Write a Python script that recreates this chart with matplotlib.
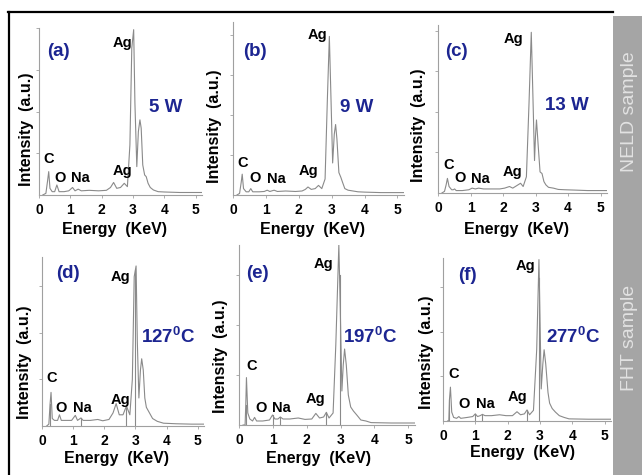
import numpy as np
import matplotlib.pyplot as plt
from matplotlib.patches import Rectangle
from matplotlib.lines import Line2D

plt.rcParams['font.family'] = ['Liberation Sans', 'DejaVu Sans']
plt.rcParams['mathtext.fontset'] = 'custom'
plt.rcParams['mathtext.rm'] = 'Liberation Sans'
plt.rcParams['mathtext.bf'] = 'Liberation Sans:bold'

# EDS spectra (energy in keV, intensity in a.u.)
energy_a = [0.12, 0.22, 0.27, 0.31, 0.35, 0.42, 0.50, 0.57, 0.64, 0.80, 0.95, 1.07, 1.15, 1.25,
            1.35, 1.60, 1.90, 2.15, 2.28, 2.38, 2.48, 2.60, 2.72, 2.82, 2.90, 2.96, 3.02, 3.06,
            3.12, 3.17, 3.22, 3.26, 3.31, 3.37, 3.42, 3.48, 3.55, 3.65, 3.80, 4.00, 4.50, 5.20]
counts_a = [0.00, 0.01, 0.08, 0.14, 0.04, 0.02, 0.02, 0.06, 0.02, 0.02, 0.025, 0.045, 0.025, 0.035,
            0.025, 0.028, 0.025, 0.028, 0.045, 0.075, 0.04, 0.045, 0.07, 0.05, 0.30, 0.88, 0.99, 0.55,
            0.17, 0.38, 0.45, 0.40, 0.18, 0.12, 0.11, 0.07, 0.045, 0.03, 0.02, 0.018, 0.015, 0.015]

energy_b = [0.12, 0.20, 0.25, 0.28, 0.32, 0.40, 0.48, 0.54, 0.60, 0.80, 0.95, 1.04, 1.12, 1.25,
            1.35, 1.60, 1.90, 2.10, 2.20, 2.28, 2.38, 2.50, 2.60, 2.70, 2.80, 2.87, 2.93, 2.98,
            3.03, 3.08, 3.12, 3.16, 3.22, 3.28, 3.33, 3.40, 3.50, 3.65, 3.80, 4.00, 4.50, 5.20]
counts_b = [0.00, 0.01, 0.08, 0.13, 0.04, 0.02, 0.02, 0.04, 0.02, 0.02, 0.022, 0.03, 0.022, 0.03,
            0.022, 0.025, 0.022, 0.025, 0.035, 0.05, 0.035, 0.04, 0.06, 0.04, 0.10, 0.60, 0.99, 0.60,
            0.20, 0.38, 0.44, 0.35, 0.14, 0.11, 0.08, 0.04, 0.03, 0.025, 0.02, 0.018, 0.015, 0.015]

energy_c = [0.12, 0.20, 0.25, 0.29, 0.34, 0.42, 0.47, 0.51, 0.56, 0.75, 0.95, 1.05, 1.15, 1.25,
            1.40, 1.60, 1.90, 2.05, 2.20, 2.30, 2.42, 2.54, 2.62, 2.72, 2.80, 2.87, 2.92, 2.97,
            3.00, 3.03, 3.08, 3.14, 3.20, 3.26, 3.32, 3.40, 3.55, 3.70, 3.90, 4.20, 4.60, 5.20]
counts_c = [0.00, 0.01, 0.05, 0.09, 0.04, 0.02, 0.02, 0.025, 0.015, 0.015, 0.02, 0.03, 0.025, 0.03,
            0.025, 0.025, 0.025, 0.03, 0.04, 0.03, 0.045, 0.06, 0.04, 0.10, 0.55, 0.99, 0.60, 0.20,
            0.35, 0.45, 0.30, 0.13, 0.12, 0.07, 0.05, 0.035, 0.03, 0.022, 0.02, 0.018, 0.015, 0.015]

energy_d = [0.15, 0.22, 0.26, 0.29, 0.33, 0.40, 0.50, 0.56, 0.62, 0.80, 0.95, 1.07, 1.14, 1.25,
            1.32, 1.55, 1.79, 1.95, 2.15, 2.28, 2.38, 2.48, 2.60, 2.71, 2.82, 2.90, 2.96, 3.02,
            3.06, 3.11, 3.16, 3.20, 3.25, 3.30, 3.35, 3.45, 3.55, 3.70, 3.90, 4.30, 4.80, 5.20]
counts_d = [0.00, 0.01, 0.12, 0.18, 0.04, 0.03, 0.03, 0.06, 0.03, 0.03, 0.03, 0.057, 0.03, 0.043,
            0.03, 0.03, 0.035, 0.028, 0.035, 0.07, 0.12, 0.06, 0.06, 0.107, 0.06, 0.25, 0.80, 0.857,
            0.45, 0.15, 0.30, 0.36, 0.30, 0.15, 0.10, 0.07, 0.04, 0.025, 0.015, 0.012, 0.01, 0.01]

energy_e = [0.12, 0.18, 0.20, 0.22, 0.26, 0.32, 0.40, 0.46, 0.52, 0.70, 0.90, 0.99, 1.06, 1.15,
            1.22, 1.30, 1.50, 1.75, 1.95, 2.15, 2.27, 2.38, 2.50, 2.58, 2.66, 2.78, 2.86, 2.95,
            2.99, 3.04, 3.08, 3.12, 3.17, 3.23, 3.30, 3.38, 3.48, 3.60, 3.75, 3.90, 4.50, 5.20]
counts_e = [0.00, 0.00, 0.10, 0.237, 0.06, 0.03, 0.02, 0.038, 0.02, 0.02, 0.025, 0.05, 0.03, 0.03,
            0.04, 0.03, 0.03, 0.035, 0.028, 0.03, 0.058, 0.035, 0.04, 0.063, 0.035, 0.06, 0.40, 0.90,
            0.60, 0.17, 0.30, 0.38, 0.30, 0.15, 0.09, 0.07, 0.05, 0.025, 0.02, 0.012, 0.01, 0.01]

energy_f = [0.14, 0.18, 0.20, 0.23, 0.27, 0.33, 0.42, 0.49, 0.55, 0.75, 0.92, 1.00, 1.07, 1.15,
            1.22, 1.30, 1.50, 1.75, 1.95, 2.15, 2.29, 2.40, 2.52, 2.60, 2.68, 2.80, 2.90, 2.97,
            3.00, 3.04, 3.09, 3.13, 3.18, 3.25, 3.30, 3.38, 3.48, 3.60, 3.75, 3.90, 4.50, 5.20]
counts_f = [0.00, 0.00, 0.12, 0.19, 0.05, 0.02, 0.015, 0.025, 0.015, 0.02, 0.025, 0.04, 0.025, 0.03,
            0.037, 0.03, 0.03, 0.035, 0.03, 0.03, 0.052, 0.035, 0.04, 0.062, 0.035, 0.06, 0.40, 0.906,
            0.60, 0.18, 0.32, 0.40, 0.32, 0.16, 0.10, 0.07, 0.05, 0.03, 0.02, 0.012, 0.01, 0.01]

# thin element marker lines seen in the lower row
markers_d = [0.26, 1.25, 2.71, 3.00]
markers_e = [0.20, 0.99, 1.22, 2.58, 2.97]
markers_f = [0.20, 1.00, 1.22, 2.60, 2.98]

panel_tags = ['(a)', '(b)', '(c)', '(d)', '(e)', '(f)']
conditions = ['5 W', '9 W', '13 W', r'127$^{\mathbf{0}}$C', r'197$^{\mathbf{0}}$C', r'277$^{\mathbf{0}}$C']
row_labels = ['NELD sample', 'FHT sample']
xticks = [0, 1, 2, 3, 4, 5]

W, H = 642, 475
fig = plt.figure(figsize=(W / 100, H / 100), dpi=100)
navy = '#1c2591'
grey = '#8a8a8a'


def fx(x):
    return x / W


def fy(y):
    return 1 - y / H


def txt(x, y, s, **kw):
    kw.setdefault('fontweight', 'bold')
    fig.text(fx(x), fy(y), s, ha='center', va='center', **kw)


# frame and side band
fig.add_artist(Rectangle((fx(613), 0), 1 - fx(613), fy(16), color='#a5a5a5', lw=0))
fig.add_artist(Line2D([fx(8), fx(613)], [fy(12), fy(12)], color='black', lw=1.6))
fig.add_artist(Line2D([fx(9), fx(9)], [fy(12), 0], color='black', lw=1.6))
txt(629, 112, row_labels[0], rotation=90, fontsize=14, color='#e2e2e2', fontweight='normal')
txt(629, 338, row_labels[1], rotation=90, fontsize=14, color='#e2e2e2', fontweight='normal')

spectra = [(energy_a, counts_a, []), (energy_b, counts_b, []), (energy_c, counts_c, []),
           (energy_d, counts_d, markers_d), (energy_e, counts_e, markers_e),
           (energy_f, counts_f, markers_f)]

# pixel boxes: left, right (at 5.2 keV), top, bottom, ylim top
boxes = [(39, 202, 28, 195, 1.0), (233, 404, 22, 195, 1.08), (438, 607, 25, 193, 1.035),
         (42, 204, 257, 426, 0.905), (239, 415, 245, 425, 0.9), (443, 611, 258, 421, 0.915)]

# text positions in pixels: tag, Ag main, condition, C, O, Na, Ag small, ylabel, xlabel
spots = [
    dict(tag=(58, 52), ag=(122, 43), cond=(166, 108), c=(49, 159), o=(60, 178), na=(80, 178),
         ag2=(122, 171), yl=(26, 129), xl=(115, 230)),
    dict(tag=(255, 52), ag=(317, 35), cond=(357, 107), c=(243, 163), o=(255, 178), na=(276, 179),
         ag2=(308, 171), yl=(215, 126), xl=(312, 230)),
    dict(tag=(456, 52), ag=(513, 39), cond=(567, 106), c=(449, 165), o=(460, 178), na=(480, 179),
         ag2=(512, 172), yl=(418, 125), xl=(517, 230)),
    dict(tag=(68, 274), ag=(120, 277), cond=(168, 337), c=(52, 378), o=(61, 408), na=(82, 408),
         ag2=(120, 400), yl=(25, 362), xl=(117, 459)),
    dict(tag=(257, 274), ag=(323, 264), cond=(370, 337), c=(252, 366), o=(261, 408), na=(281, 408),
         ag2=(315, 399), yl=(220, 356), xl=(318, 459)),
    dict(tag=(467, 275), ag=(525, 266), cond=(573, 337), c=(454, 374), o=(464, 404), na=(485, 404),
         ag2=(517, 397), yl=(426, 352), xl=(522, 453)),
]

for i in range(6):
    e, c, marks = spectra[i]
    l, r, t, b, ytop = boxes[i]
    ax = fig.add_axes([fx(l), fy(b), fx(r) - fx(l), (b - t) / H])
    ax.plot(e, c, color=grey, lw=0.8)
    for m in marks:
        ax.plot([m, m], [0, np.interp(m, e, c)], color=grey, lw=0.8)
    ax.set_xlim(0, 5.2)
    ax.set_ylim(0, ytop)
    ax.set_xticks(xticks)
    ax.set_yticks([v for v in [0.25, 0.5, 0.75, 1.0] if v <= ytop])
    ax.set_yticklabels([])
    ax.set_xticklabels([str(v) for v in xticks], fontsize=10, fontweight='bold')
    ax.tick_params(axis='both', length=2.5, width=0.6, color='#a0a0a0', pad=3.5)
    for s in ['top', 'right']:
        ax.spines[s].set_visible(False)
    for s in ['left', 'bottom']:
        ax.spines[s].set_color('#a0a0a0')
        ax.spines[s].set_linewidth(0.8)
    ax.patch.set_alpha(0)

    sp = spots[i]
    txt(*sp['tag'], panel_tags[i], fontsize=13.5, color=navy)
    txt(*sp['ag'], 'Ag', fontsize=10.5)
    txt(*sp['cond'], conditions[i], fontsize=13.5, color=navy)
    txt(*sp['c'], 'C', fontsize=10.5)
    txt(*sp['o'], 'O', fontsize=10.5)
    txt(*sp['na'], 'Na', fontsize=10.5)
    txt(*sp['ag2'], 'Ag', fontsize=10.5)
    txt(*sp['yl'], 'Intensity  (a.u.)', fontsize=11.5, rotation=90)
    txt(*sp['xl'], 'Energy  (KeV)', fontsize=11.5)

fig.savefig('out.png', dpi=100)
